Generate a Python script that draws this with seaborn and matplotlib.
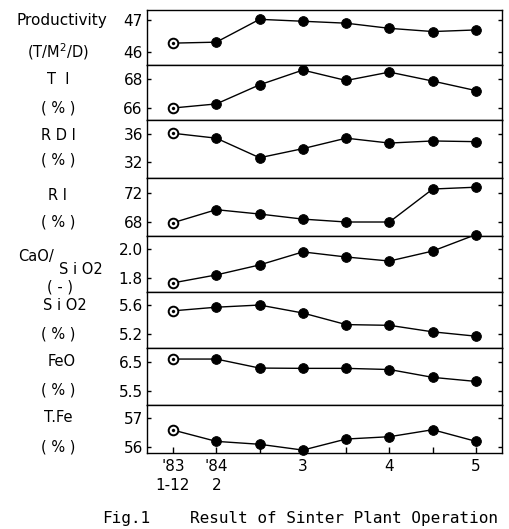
import matplotlib
matplotlib.use("Agg")
import matplotlib.pyplot as plt
import seaborn as sns
import numpy as np
import pandas as pd

sns.set_theme(style="white")
plt.rcParams['font.family'] = ['DejaVu Sans']

x_idx = [0, 1, 2, 3, 4, 5, 6, 7]
x_labels = ["'83\n1-12", "'84\n2", "", "3", "", "4", "", "5"]

productivity = [46.28, 46.31, 47.02, 46.96, 46.90, 46.74, 46.64, 46.69]
ti = [66.0, 66.28, 67.6, 68.62, 67.9, 68.48, 67.86, 67.2]
rdi = [36.1, 35.4, 32.6, 33.9, 35.4, 34.7, 35.0, 34.9]
ri = [67.9, 69.7, 69.1, 68.4, 68.0, 68.0, 72.55, 72.8]
cao_sio2 = [1.766, 1.821, 1.89, 1.98, 1.945, 1.917, 1.986, 2.10]
sio2 = [5.52, 5.57, 5.60, 5.49, 5.33, 5.32, 5.23, 5.17]
feo = [6.60, 6.60, 6.29, 6.28, 6.28, 6.24, 5.97, 5.83]
tfe = [56.59, 56.20, 56.10, 55.90, 56.28, 56.36, 56.60, 56.20]

series = [productivity, ti, rdi, ri, cao_sio2, sio2, feo, tfe]
yticks = [[46, 47], [66, 68], [32, 36], [68, 72], [1.8, 2.0], [5.2, 5.6], [5.5, 6.5], [56, 57]]
yticklabels = [["46", "47"], ["66", "68"], ["32", "36"], ["68", "72"], ["1.8", "2.0"],
               ["5.2", "5.6"], ["5.5", "6.5"], ["56", "57"]]
ylims = [(45.6, 47.31), (65.17, 68.97), (29.7, 38.0), (66.07, 74.07), (1.703, 2.09),
         (5.007, 5.78), (5.02, 6.98), (55.8, 57.45)]
heights = [55, 55, 58, 58, 56, 56, 57, 48]

fig = plt.figure(figsize=(5.09, 5.29), dpi=100)
gs = fig.add_gridspec(8, 1, height_ratios=heights, hspace=0,
                      left=147/509, right=502/509, top=1-10/529, bottom=1-453/529)
axes = [fig.add_subplot(gs[i]) for i in range(8)]

for i, ax in enumerate(axes):
    df = pd.DataFrame({"x": x_idx, "y": series[i]})
    sns.lineplot(data=df, x="x", y="y", ax=ax, color="black", lw=1.0)
    sns.scatterplot(data=df.iloc[1:], x="x", y="y", ax=ax, color="black", s=50,
                    edgecolor="black", zorder=3, clip_on=False)
    sns.scatterplot(data=df.iloc[:1], x="x", y="y", ax=ax, color="white", s=48,
                    edgecolor="black", linewidth=1.4, zorder=3, clip_on=False)
    sns.scatterplot(data=df.iloc[:1], x="x", y="y", ax=ax, color="black", s=5,
                    edgecolor="black", zorder=4, clip_on=False)
    ax.set_xlim(-0.6, 7.6)
    ax.set_ylim(*ylims[i])
    ax.set_yticks(yticks[i])
    ax.set_yticklabels(yticklabels[i], fontsize=11)
    ax.set_xlabel("")
    ax.set_ylabel("")
    ax.tick_params(axis="y", left=True, right=True, direction="in", length=3, width=1,
                   pad=3, colors="black")
    for sp in ax.spines.values():
        sp.set_color("black")
        sp.set_linewidth(1.0)
    if i < 7:
        ax.set_xticks([])
    else:
        ax.set_xticks(x_idx)
        ax.set_xticklabels(x_labels, fontsize=11, linespacing=1.4)
        ax.tick_params(axis="x", bottom=True, direction="in", length=4, width=1,
                       pad=4, colors="black")

# left-hand labels
labels = [
    ("Productivity", 62, 20, 11), ("(T/M$^2$/D)", 58, 52, 10.5),
    ("T  I", 58, 80, 10.5), ("( % )", 58, 108, 10.5),
    ("R D I", 58, 135, 10.5), ("( % )", 58, 160, 10.5),
    ("R I", 58, 195, 10.5), ("( % )", 58, 222, 10.5),
    ("( - )", 60, 287, 10.5),
    ("S i O2", 65, 305, 10.5), ("( % )", 58, 334, 10.5),
    ("FeO", 62, 362, 10.5), ("( % )", 58, 390, 10.5),
    ("T.Fe", 58, 418, 10.5), ("( % )", 58, 447, 10.5),
]
for txt, xc, yp, fs in labels:
    fig.text(xc/509, 1-yp/529, txt, ha="center", va="center", fontsize=fs, color="black")
fig.text(18/509, 1-257/529, "CaO/", ha="left", va="center", fontsize=10.5, color="black")
fig.text(59/509, 1-270/529, "S i O2", ha="left", va="center", fontsize=10.5, color="black")

cap_y = 1 - 518/529
fig.text(102/509, cap_y, "Fig.1", ha="left", va="center", fontsize=11.5,
         family="DejaVu Sans Mono", color="black")
fig.text(190/509, cap_y, "Result of Sinter Plant Operation", ha="left", va="center",
         fontsize=11.5, family="DejaVu Sans Mono", color="black")

fig.savefig("out.png", dpi=100, facecolor="white")
